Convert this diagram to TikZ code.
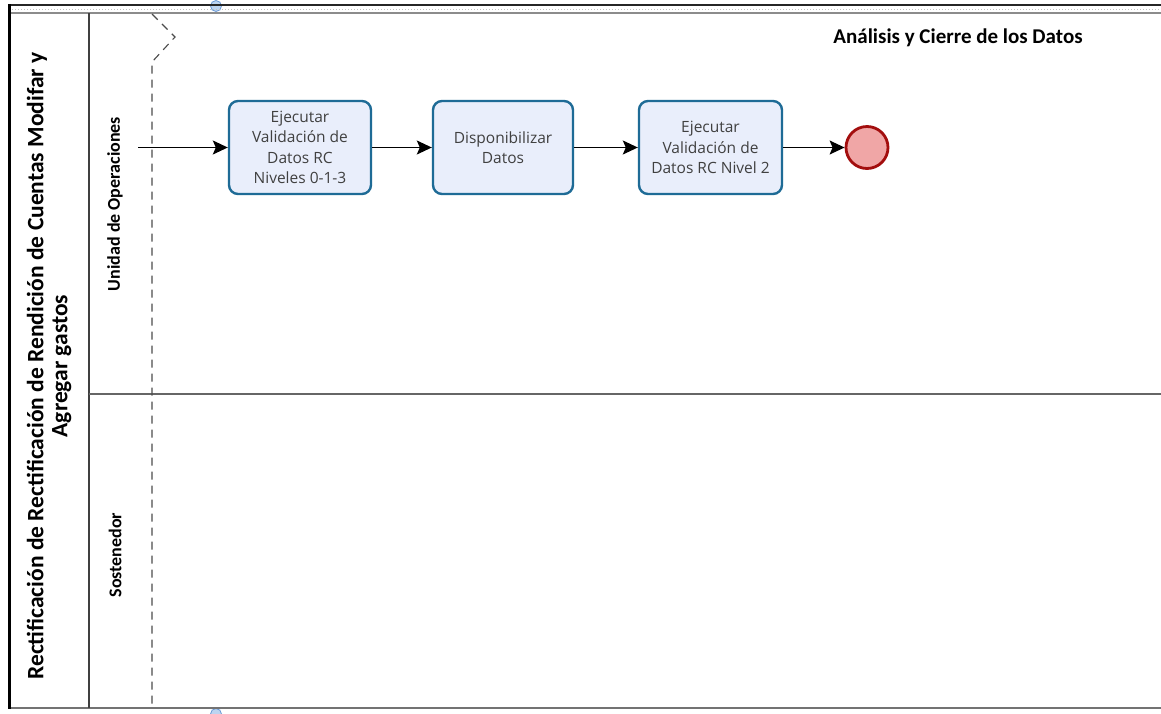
\documentclass[tikz,border=0pt]{standalone}
\usepackage{fontspec}
\setmainfont{Open Sans}
\newfontfamily\calib{Carlito}
\usetikzlibrary{arrows.meta}
\definecolor{taskblue}{HTML}{1E6B96}
\definecolor{taskfill}{HTML}{E9EEFB}
\definecolor{textgray}{HTML}{404040}
\definecolor{endred}{HTML}{A30E0E}
\definecolor{endfill}{HTML}{F0A6A6}
\definecolor{handlefill}{HTML}{BCD4F0}
\definecolor{handledraw}{HTML}{6C9AD6}
\begin{document}
\begin{tikzpicture}[x=1pt,y=-1pt,
  task/.style={draw=taskblue, line width=2.4pt, fill=taskfill, rounded corners=9pt,
    minimum height=93pt, inner sep=0pt, align=center,
    font=\fontsize{15.5}{20.5}\selectfont, text=textgray},
  flow/.style={draw=black, line width=1.4pt, -{Stealth[length=15pt,width=14pt,inset=3pt]}},
  endevent/.style={circle, draw=endred, line width=2.8pt, fill=endfill, minimum size=42pt, inner sep=0pt},
  lanelabel/.style={rotate=90, font=\calib\bfseries\fontsize{18}{20}\selectfont},
  frameline/.style={line width=1.5pt, draw=#1},
  swim/.style={draw=black!70, dash pattern=on 8pt off 6pt, line width=1.1pt}
]
\useasboundingbox (0,0) rectangle (1161,713);
\fill[white] (0,0) rectangle (1161,713);

% selection handles on the pool border
\draw[handledraw, fill=handlefill, line width=0.8pt] (216,6) circle (5.5);
\draw[handledraw, fill=handlefill, line width=0.8pt] (216,714) circle (5.5);

% pool frame
\draw[line width=2.5pt, black!85] (9,5) -- (1161,5);
\draw[line width=1pt, dotted, black!25] (9,9) -- (1161,9);
\draw[line width=2pt, black!45] (9,12.5) -- (1161,12.5);
\draw[line width=2pt, black!55] (9,708) -- (1161,708);
\draw[line width=3pt, black] (9,4) -- (9,709);
\draw[frameline=black!75] (89,13) -- (89,708);
\draw[frameline=black!60] (89,394) -- (1161,394);

% milestone separator
\draw[swim] (152,14) -- (175,37) -- (152,62) -- (152,708);

% pool and lane labels
\node[rotate=90, align=center, font=\calib\bfseries\fontsize{23.5}{24}\selectfont] (pool) at (49,366)
  {Rectificación de Rectificación de Rendición de Cuentas Modifar y\\Agregar gastos};
\node[lanelabel] (lane1) at (115,204) {Unidad de Operaciones};
\node[lanelabel] (lane2) at (115,555) {Sostenedor};

% milestone title
\node[font=\calib\bfseries\fontsize{21}{24}\selectfont] (title) at (958,38) {Análisis y Cierre de los Datos};

% process
\coordinate (start) at (138,147.5);
\node[task, minimum width=142pt] (t1) at (300,147.5) {Ejecutar\\Validación de\\Datos RC\\Niveles 0-1-3};
\node[task, minimum width=140pt] (t2) at (503,147.5) {Disponibilizar\\Datos};
\node[task, minimum width=143pt] (t3) at (710.5,147.5) {Ejecutar\\Validación de\\Datos RC Nivel 2};
\node[endevent] (end) at (867,147.5) {};

\draw[flow] (start) -- (t1);
\draw[flow] (t1) -- (t2);
\draw[flow] (t2) -- (t3);
\draw[flow] (t3) -- (end);
\end{tikzpicture}
\end{document}
